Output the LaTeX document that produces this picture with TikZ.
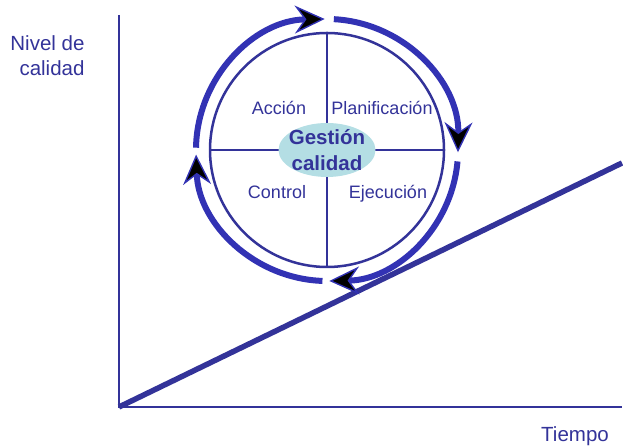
\documentclass[tikz,border=0pt]{standalone}
\usepackage{fontspec}
\setmainfont{Liberation Sans}
\usetikzlibrary{arrows.meta,shapes.geometric}
\definecolor{azul}{RGB}{51,51,153}
\definecolor{anillo}{RGB}{50,50,180}
\definecolor{celeste}{RGB}{180,222,228}

\begin{document}
\begin{tikzpicture}[
  x=1pt, y=1pt,
  font=\fontsize{20.5}{25}\selectfont,
  every node/.style={align=center, text=azul},
  eje/.style={draw=azul, line width=2.5pt},
  rampa/.style={draw=azul, line width=5.5pt},
  ciclobox/.style={circle, draw=azul, line width=2.5pt, minimum size=234pt, inner sep=0pt},
  cruz/.style={draw=azul, line width=2pt},
  cuadrante/.style={font=\fontsize{18}{22}\selectfont, inner sep=0pt},
  centro/.style={ellipse, fill=celeste, minimum width=97pt, minimum height=54pt, inner sep=0pt},
  giro/.style={draw=anillo, line width=6pt,
               -{Stealth[length=30pt, width=28pt, inset=10pt, line width=1.4pt, fill=black]}},
]
\useasboundingbox (0,0) rectangle (623,446);

% ===== axes =====
\coordinate (o) at (119,39);
\coordinate (ytop) at (119,431);
\coordinate (xend) at (622,39);
\coordinate (subida) at (622,283);
\draw[eje] (ytop) -- (o) -- (xend);
\draw[rampa] (o) -- (subida);

\node[anchor=base east, align=right] (nivel) at (88,370) {Nivel de\\calidad};
\node[anchor=base] (tiempo) at (575,4) {Tiempo};

% ===== cycle =====
\node[ciclobox] (ciclo) at (327,296) {};
\draw[cruz] (ciclo.north) -- (ciclo.south);
\draw[cruz] (ciclo.west) -- (ciclo.east);

\node[centro] (gestion) at (ciclo.center) {};
\node[font=\bfseries\fontsize{20.5}{26}\selectfont] (gestiontxt) at (gestion.center) {Gesti\'on\\calidad};

\node[cuadrante, anchor=base] (accion) at (279,331) {Acci\'on};
\node[cuadrante, anchor=base] (plan) at (382,331) {Planificaci\'on};
\node[cuadrante, anchor=base] (control) at (277,247) {Control};
\node[cuadrante, anchor=base] (ejec) at (388,247) {Ejecuci\'on};

% ring arrows, clockwise
\draw[giro] (ciclo.center) ++(179:131) arc[start angle=179, end angle=91, radius=131];
\draw[giro] (ciclo.center) ++(87:131) arc[start angle=87, end angle=-1, radius=131];
\draw[giro] (ciclo.center) ++(-5:131) arc[start angle=-5, end angle=-89, radius=131];
\draw[giro] (ciclo.center) ++(-92:131) arc[start angle=-92, end angle=-178, radius=131];
\end{tikzpicture}
\end{document}
